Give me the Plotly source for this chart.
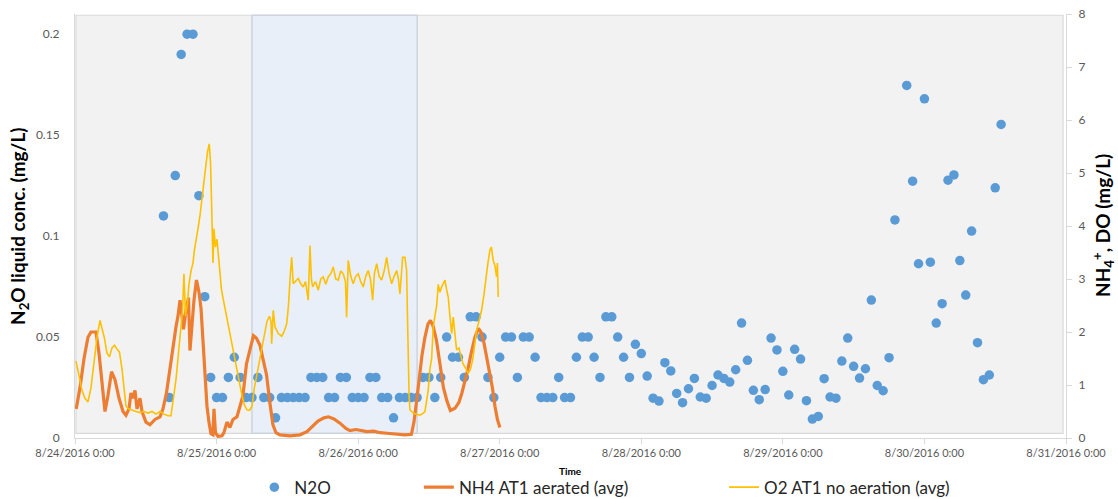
import pandas as pd
import plotly.graph_objects as go
from plotly.subplots import make_subplots

START = pd.Timestamp("2016-08-24 00:00")

# Hourly N2O grab results (hours after 8/24/2016 0:00, mg/L)
n2o_hours = [15, 16, 17, 18, 19, 20, 21, 22, 23, 24, 25, 26, 27, 28, 29, 30, 31, 32, 33, 34,
             35, 36, 37, 38, 39, 40, 41, 42, 43, 44, 45, 46, 47, 48, 49, 50, 51, 52, 53, 54,
             55, 56, 57, 58, 59, 60, 61, 62, 63, 64, 65, 66, 67, 68, 69, 70, 71, 72, 73, 74,
             75, 76, 77, 78, 79, 80, 81, 82, 83, 84, 85, 86, 87, 88, 89, 90, 91, 92, 93, 94,
             95, 96, 97, 98, 99, 100, 101, 102, 103, 104, 105, 106, 107, 108, 109, 110, 111,
             112, 113, 114, 115, 116, 117, 118, 119, 120, 121, 122, 123, 124, 125, 126, 127,
             128, 129, 130, 131, 132, 133, 134, 135, 136, 137, 138, 139, 141, 142, 143, 144,
             145, 146, 147, 148, 149, 150, 151, 152, 153, 154, 155, 156, 157]
n2o_conc = [0.11, 0.02, 0.13, 0.19, 0.20, 0.20, 0.12, 0.07, 0.03, 0.02, 0.02, 0.03, 0.04, 0.03,
            0.02, 0.02, 0.03, 0.02, 0.02, 0.01,
            0.02, 0.02, 0.02, 0.02, 0.02, 0.03, 0.03, 0.03, 0.02, 0.02, 0.03, 0.03, 0.02, 0.02,
            0.02, 0.03, 0.03, 0.02, 0.02, 0.01,
            0.02, 0.02, 0.02, 0.02, 0.03, 0.03, 0.02, 0.03, 0.05, 0.04, 0.04, 0.03, 0.06, 0.06,
            0.05, 0.03, 0.02, 0.04, 0.05, 0.05,
            0.03, 0.05, 0.05, 0.04, 0.02, 0.02, 0.02, 0.03, 0.02, 0.02, 0.04, 0.05, 0.05, 0.04,
            0.03, 0.06, 0.06, 0.05, 0.04, 0.03,
            0.0464, 0.0418, 0.0307, 0.0197, 0.0183, 0.0373, 0.0332, 0.0221, 0.0175, 0.0244,
            0.0295, 0.0203, 0.0197, 0.0260, 0.0312, 0.0295, 0.0277,
            0.0338, 0.0569, 0.0385, 0.0236, 0.0190, 0.0240, 0.0495, 0.0436, 0.0330, 0.0213,
            0.0439, 0.0391, 0.0185, 0.0094, 0.0107, 0.0294,
            0.0203, 0.0197, 0.0381, 0.0495, 0.0355, 0.0297, 0.0343, 0.0683, 0.0260, 0.0234,
            0.0398, 0.1080, 0.1746, 0.1272, 0.0863, 0.1680,
            0.0871, 0.0569, 0.0665, 0.1277, 0.1303, 0.0879, 0.0708, 0.1025, 0.0472, 0.0289,
            0.0312, 0.1239, 0.1553]

# NH4 AT1 aerated, averaged online signal (hours, mg/L)
nh4_hours = [0.2, 0.85, 1.53, 2.2, 2.71, 3.56, 4.07, 4.58, 5.08, 5.59, 6.19, 6.78, 7.46, 8.14,
             8.64, 9.15, 9.49, 9.83, 10.17, 10.51, 11.02, 11.36, 12.03, 12.71, 13.56, 14.41,
             14.92, 15.51, 15.93, 16.36, 16.78, 17.12, 17.46, 17.8, 18.14, 18.39, 18.81, 19.24,
             19.49, 19.75, 20.17, 20.59, 21.02, 21.36, 21.69, 22.03, 22.37, 22.71, 23.05, 23.39,
             23.56, 23.81, 24.24, 24.92, 25.25, 25.76, 26.27, 26.78, 27.46, 27.97, 28.47, 29.07,
             29.66, 30.25, 30.76, 31.36, 31.95, 32.46, 33.05, 33.56, 34.07, 34.75, 36.44, 38.14,
             39.32, 40.34, 41.19, 42.2, 42.97, 43.9, 44.92, 45.93, 46.61, 47.63, 48.64, 49.49,
             50.68, 51.69, 52.88, 54.24, 55.93, 57.03, 57.46, 57.97, 58.47, 58.81, 59.32, 59.83,
             60.25, 60.68, 61.27, 61.86, 62.46, 63.05, 63.64, 64.41, 65.08, 65.59, 66.1, 66.61,
             67.2, 67.8, 68.39, 68.81, 69.32, 69.83, 70.34, 70.76, 71.19, 71.61, 72.03]
nh4_conc = [0.55, 0.95, 1.5, 1.9, 2.0, 2.0, 1.6, 1.0, 0.5, 0.8, 1.25, 1.1, 0.75, 0.5,
            0.43, 0.55, 0.85, 0.75, 0.9, 0.55, 0.75, 0.5, 0.3, 0.25, 0.35, 0.4,
            0.55, 0.85, 1.2, 1.45, 1.8, 2.1, 2.3, 2.6, 2.3, 2.05, 2.4, 2.65,
            1.65, 2.0, 2.6, 2.98, 2.75, 2.45, 1.9, 1.3, 0.6, 0.3, 0.08, 0.06,
            0.55, 0.1, 0.03, 0.04, 0.1, 0.3, 0.2, 0.35, 0.4, 0.6, 0.8, 1.4,
            1.7, 1.93, 1.88, 1.75, 1.45, 1.2, 0.65, 0.25, 0.1, 0.06, 0.04, 0.06,
            0.12, 0.22, 0.32, 0.38, 0.4, 0.36, 0.28, 0.18, 0.14, 0.16, 0.14, 0.12,
            0.13, 0.1, 0.09, 0.07, 0.06, 0.07, 0.3, 0.75, 1.3, 1.55, 1.9, 2.15,
            2.22, 2.12, 1.85, 1.45, 0.95, 0.7, 0.52, 0.56, 0.67, 0.85, 1.05, 1.3,
            1.62, 1.9, 2.07, 2.0, 1.8, 1.5, 1.2, 0.95, 0.6, 0.35, 0.2]

# O2 AT1 no aeration, averaged online signal (hours, mg/L)
o2_hours = [0.17, 0.68, 1.19, 1.69, 2.2, 2.71, 3.22, 3.73, 4.24, 4.58, 5.0, 5.42, 5.85, 6.27,
            6.69, 7.12, 7.54, 7.97, 8.31, 8.64, 9.07, 9.66, 10.34, 11.02, 11.69, 12.37, 13.05,
            13.73, 14.41, 15.08, 15.76, 16.27, 16.69, 17.12, 17.54, 17.97, 18.22, 18.47, 18.73,
            19.07, 19.32, 19.66, 20.0, 20.25, 20.51, 20.85, 21.19, 21.44, 21.69, 21.95, 22.2,
            22.46, 22.76, 22.97, 23.14, 23.27, 23.39, 23.56, 23.81, 24.07, 24.32, 24.58, 24.83,
            25.08, 25.34, 25.76, 26.19, 26.61, 27.03, 27.46, 27.88, 28.31, 28.73, 29.15, 29.58,
            30.0, 30.42, 30.85, 31.27, 31.69, 32.12, 32.54, 32.97, 33.22, 33.34, 33.61, 33.9,
            34.46, 35.03, 35.42, 35.88, 36.19, 36.44, 36.73, 37.0, 37.37, 37.85, 38.22, 38.69,
            39.07, 39.54, 39.83, 40.08, 40.29, 40.76, 41.24, 41.66, 42.08, 42.51, 42.93, 43.36,
            43.78, 44.2, 44.63, 45.05, 45.47, 45.85, 46.05, 46.32, 46.75, 47.17, 47.59, 48.02,
            48.44, 48.86, 49.29, 49.71, 50.08, 50.46, 50.76, 51.14, 51.56, 51.98, 52.41, 52.83,
            53.25, 53.68, 54.1, 54.53, 54.83, 55.08, 55.34, 55.54, 55.93, 56.22, 56.36, 56.49,
            56.64, 56.78, 57.34, 57.88, 58.47, 59.03, 59.32, 59.88, 60.17, 60.46, 60.73, 61.02,
            61.31, 61.58, 61.86, 62.15, 62.42, 62.71, 63.0, 63.27, 63.56, 63.85, 64.12, 64.41,
            64.69, 65.08, 65.42, 65.76, 66.1, 66.44, 66.66, 67.03, 67.41, 67.75, 68.08, 68.47,
            68.93, 69.32, 69.66, 70.0, 70.34, 70.59, 70.9, 71.19, 71.47, 71.61, 71.75]
o2_conc = [1.45, 1.2, 0.9, 0.75, 0.68, 0.95, 1.45, 1.9, 2.22, 2.05, 1.88, 1.6, 1.53, 1.7,
           1.75, 1.68, 1.62, 1.3, 0.9, 0.6, 0.55, 0.52, 0.5, 0.48, 0.5, 0.47, 0.5,
           0.45, 0.5, 0.45, 0.42, 0.42, 0.75, 1.1, 1.6, 2.05, 2.4, 3.1, 2.3,
           2.55, 2.9, 3.15, 3.3, 3.55, 3.7, 3.95, 4.2, 4.45, 4.7, 4.88, 5.1,
           5.4, 5.55, 5.2, 4.5, 4.0, 3.3, 3.95, 3.6, 3.75, 3.4, 3.0, 2.8,
           2.65, 2.5, 2.25, 2.0, 1.75, 1.5, 1.25, 1.0, 0.8, 0.62, 0.53, 0.52,
           0.6, 0.95, 1.2, 1.5, 1.7, 2.0, 2.2, 2.3, 2.2, 1.78, 2.41, 2.1,
           1.97, 1.92, 2.0, 2.15, 2.5, 2.98, 3.41, 2.91, 2.95, 3.01, 2.92, 2.85,
           2.95, 2.6, 3.63, 3.0, 2.85, 2.95, 2.79, 3.0, 3.04, 2.9, 3.04, 3.1,
           3.23, 3.0, 2.98, 3.15, 3.1, 2.95, 2.28, 3.35, 3.05, 2.91, 3.05, 3.1,
           2.95, 2.85, 3.05, 3.16, 3.0, 2.6, 3.1, 3.29, 3.05, 2.98, 3.15, 3.41,
           3.1, 2.91, 3.05, 3.16, 3.0, 2.72, 3.1, 3.41, 3.41, 3.16, 2.3, 1.41,
           0.8, 0.53, 0.47, 0.45, 0.43, 0.47, 0.5, 0.9, 1.3, 1.5, 2.1, 2.3,
           2.5, 2.9, 2.75, 2.85, 2.9, 2.98, 2.8, 2.66, 2.3, 1.97, 2.28, 1.9,
           1.66, 1.7, 1.55, 1.4, 1.34, 1.25, 1.22, 1.3, 1.47, 1.75, 2.03, 2.2,
           2.41, 2.7, 3.04, 3.3, 3.55, 3.6, 3.35, 3.25, 3.04, 3.3, 2.66]

day_ticks = ["2016-08-24", "2016-08-25", "2016-08-26", "2016-08-27",
             "2016-08-28", "2016-08-29", "2016-08-30", "2016-08-31"]
day_labels = ["8/24/2016 0:00", "8/25/2016 0:00", "8/26/2016 0:00", "8/27/2016 0:00",
              "8/28/2016 0:00", "8/29/2016 0:00", "8/30/2016 0:00", "8/31/2016 0:00"]
no_aeration_start = "2016-08-25 06:00"
no_aeration_end = "2016-08-26 10:00"


def to_time(hours):
    return START + pd.to_timedelta(hours, unit="h")


FONT = "Lato"
TICK_GREY = "#595959"
AXIS_GREY = "#d9d9d9"

fig = make_subplots(specs=[[{"secondary_y": True}]])

fig.add_trace(go.Scatter(
    x=to_time(n2o_hours), y=n2o_conc, mode="markers", name="N2O",
    marker=dict(color="#5b9bd5", size=9.5, line=dict(width=0)),
    legend="legend"), secondary_y=False)

fig.add_trace(go.Scatter(
    x=to_time(nh4_hours), y=nh4_conc, mode="lines", name="NH4 AT1 aerated (avg)",
    line=dict(color="#ed7d31", width=3.2), legend="legend2"), secondary_y=True)

fig.add_trace(go.Scatter(
    x=to_time(o2_hours), y=o2_conc, mode="lines", name="O2 AT1 no aeration (avg)",
    line=dict(color="#ffc000", width=1.6), legend="legend3"), secondary_y=True)

# plot panel and the no-aeration period
fig.add_shape(type="rect", xref="paper", yref="paper", x0=0.001, x1=0.997, y0=0.011, y1=0.997,
              fillcolor="#f2f2f2", line=dict(color=AXIS_GREY, width=1.2), layer="below")
fig.add_shape(type="rect", xref="x", yref="paper", x0=no_aeration_start, x1=no_aeration_end,
              y0=0.011, y1=0.997, fillcolor="#e8eff8", line=dict(color="#cdd4de", width=1.5),
              layer="below")

legend_common = dict(orientation="h", yanchor="middle", y=-0.117, xanchor="left",
                     font=dict(family=FONT, size=17, color="#262626"),
                     bgcolor="rgba(0,0,0,0)", itemwidth=30)

fig.update_layout(
    width=1118, height=499,
    margin=dict(l=75, r=52, t=14, b=61, autoexpand=False),
    paper_bgcolor="white", plot_bgcolor="white",
    font=dict(family=FONT, color=TICK_GREY),
    showlegend=True,
    legend=dict(x=0.181, **legend_common),
    legend2=dict(x=0.347, **legend_common),
    legend3=dict(x=0.655, **legend_common),
    annotations=[
        dict(text="N<sub>2</sub>O liquid conc. (mg/L)", textangle=-90, xref="paper", yref="paper",
             x=0, xshift=-56, y=0.5, xanchor="center", yanchor="middle", showarrow=False,
             font=dict(family=FONT, size=19, color="#000000", weight="bold")),
        dict(text="NH<sub>4</sub><sup>+</sup>, DO (mg/L)", textangle=-90, xref="paper", yref="paper",
             x=1, xshift=37, y=0.5, xanchor="center", yanchor="middle", showarrow=False,
             font=dict(family=FONT, size=19, color="#000000", weight="bold")),
        dict(text="Time", xref="paper", yref="paper", x=0.5, y=-0.077, xanchor="center",
             yanchor="middle", showarrow=False,
             font=dict(family=FONT, size=10, color="#000000", weight="bold")),
    ],
)

fig.update_xaxes(
    domain=[0, 1],
    type="date", range=["2016-08-24", "2016-08-31"],
    tickvals=day_ticks, ticktext=day_labels,
    tickfont=dict(family=FONT, size=11, color=TICK_GREY),
    showgrid=False, zeroline=False,
    showline=True, linecolor=AXIS_GREY, linewidth=1,
    ticks="outside", ticklen=5, tickcolor=AXIS_GREY, ticklabelstandoff=0,
)
fig.update_yaxes(
    range=[0, 0.21], tickvals=[0, 0.05, 0.1, 0.15, 0.2],
    ticktext=["0", "0.05", "0.1", "0.15", "0.2"],
    tickfont=dict(family=FONT, size=12, color=TICK_GREY),
    showgrid=False, zeroline=False,
    showline=True, linecolor=AXIS_GREY, linewidth=1,
    ticks="", ticklabelstandoff=12, secondary_y=False,
)
fig.update_yaxes(
    range=[0, 8], dtick=1,
    tickfont=dict(family=FONT, size=12, color=TICK_GREY),
    showgrid=False, zeroline=False,
    showline=True, linecolor=AXIS_GREY, linewidth=1,
    ticks="outside", ticklen=5, tickcolor=AXIS_GREY, ticklabelstandoff=4,
    secondary_y=True,
)

fig.write_html("out.html")
